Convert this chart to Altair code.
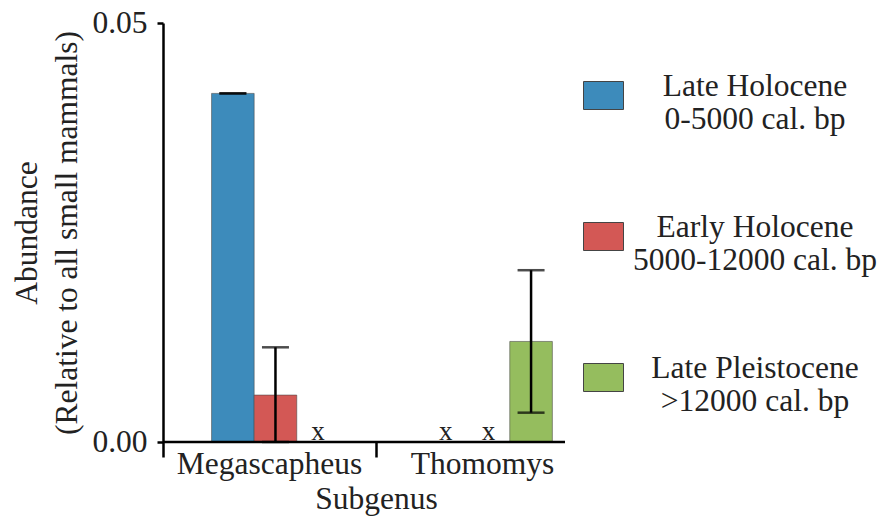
import altair as alt
import pandas as pd

# Abundance of pocket gophers by subgenus and time period
subgenera = ["Megascapheus", "Megascapheus", "Megascapheus",
             "Thomomys", "Thomomys", "Thomomys"]
periods = ["Late Holocene", "Early Holocene", "Late Pleistocene"] * 2
abundance = [0.0416, 0.0056, None, None, None, 0.0120]
err_low = [0.0416, 0.0, None, None, None, 0.0035]
err_high = [0.0416, 0.0113, None, None, None, 0.0205]

period_order = ["Late Holocene", "Early Holocene", "Late Pleistocene"]
period_ranges = ["0-5000 cal. bp", "5000-12000 cal. bp", ">12000 cal. bp"]
period_colors = ["#3d8bbb", "#d35855", "#95bd5e"]

df = pd.DataFrame({
    "subgenus": subgenera,
    "period": periods,
    "abundance": abundance,
    "lo": err_low,
    "hi": err_high,
})

FONT = "Liberation Serif"
FS = 31.5
INK = "#222222"

# legend labels get the period's date range as a second line
range_expr = " : ".join(
    f"datum.label == '{p}' ? '{r}'" for p, r in zip(period_order, period_ranges)
) + " : ''"
label_expr = f"[datum.label, {range_expr}]"

x_enc = alt.X(
    "subgenus:N",
    scale=alt.Scale(paddingInner=0, paddingOuter=0),
    axis=alt.Axis(
        title="Subgenus", labelAngle=0, domain=False, bandPosition=0,
        tickSize=15, tickWidth=2.5, tickColor="black",
        labelPadding=-9, titlePadding=4, labelLimit=400,
    ),
)
xoff_enc = alt.XOffset(
    "period:N", sort=period_order,
    scale=alt.Scale(domain=period_order, paddingInner=0, paddingOuter=1, align=0.57),
)
y_scale = alt.Scale(domain=[0, 0.05], nice=False)

base = alt.Chart(df)

bars = base.mark_bar(stroke="#444444", strokeWidth=0.8, strokeOpacity=0.7).encode(
    x=x_enc,
    xOffset=xoff_enc,
    y=alt.Y(
        "abundance:Q", scale=y_scale,
        axis=alt.Axis(
            values=[0, 0.05], format=".2f", grid=False,
            title=["Abundance", "(Relative to all small mammals)"],
            titleLineHeight=40, titlePadding=8,
            tickSize=6, tickWidth=2.5, tickColor="black",
            domainWidth=2.5, domainColor="black", labelPadding=10,
        ),
    ),
    color=alt.Color(
        "period:N", sort=period_order,
        scale=alt.Scale(domain=period_order, range=period_colors),
        legend=alt.Legend(
            title=None, orient="none", legendX=420, legendY=52, padding=0,
            symbolType="M-1,-0.7H1V0.7H-1Z", symbolSize=1600,
            symbolStrokeColor="#444444", symbolStrokeWidth=1,
            labelExpr=label_expr, labelAlign="center", labelBaseline="alphabetic",
            labelOffset=131, labelFontSize=FS, labelFont=FONT, labelColor=INK,
            labelLimit=400, rowPadding=75,
        ),
    ),
)

whiskers = base.mark_rule(color="black", strokeWidth=2.5).encode(
    x=x_enc, xOffset=xoff_enc,
    y=alt.Y("lo:Q", scale=y_scale), y2="hi:Q",
)
caps_hi = base.mark_tick(color="black", thickness=2.5, size=27, orient="horizontal").encode(
    x=x_enc, xOffset=xoff_enc, y=alt.Y("hi:Q", scale=y_scale),
)
caps_lo = base.mark_tick(color="black", thickness=2.5, size=27, orient="horizontal").encode(
    x=x_enc, xOffset=xoff_enc, y=alt.Y("lo:Q", scale=y_scale),
)

# "x" marks the periods where the subgenus was not recorded
missing = base.mark_text(text="x", font=FONT, fontSize=27, color=INK,
                         baseline="alphabetic", dy=-2).encode(
    x=x_enc, xOffset=xoff_enc, y=alt.datum(0),
).transform_filter("datum.abundance == null")

baseline = alt.Chart(pd.DataFrame({"zero": [0]})).mark_rule(
    color="black", strokeWidth=2.5
).encode(y=alt.Y("zero:Q", scale=y_scale), x=alt.value(0), x2=alt.value(402))

chart = alt.layer(bars, whiskers, caps_hi, caps_lo, missing, baseline).properties(
    width=426, height=419,
    autosize=alt.AutoSizeParams(type="none"),
    padding={"left": 163, "top": 23, "right": 295, "bottom": 75},
    background="white",
).configure_view(stroke=None).configure_axis(
    labelFont=FONT, titleFont=FONT, labelFontSize=FS, titleFontSize=FS,
    labelColor=INK, titleColor=INK, titleFontWeight="normal",
).configure_text(font=FONT)

chart.save("out.html", embed_options={"renderer": "svg", "actions": False})
